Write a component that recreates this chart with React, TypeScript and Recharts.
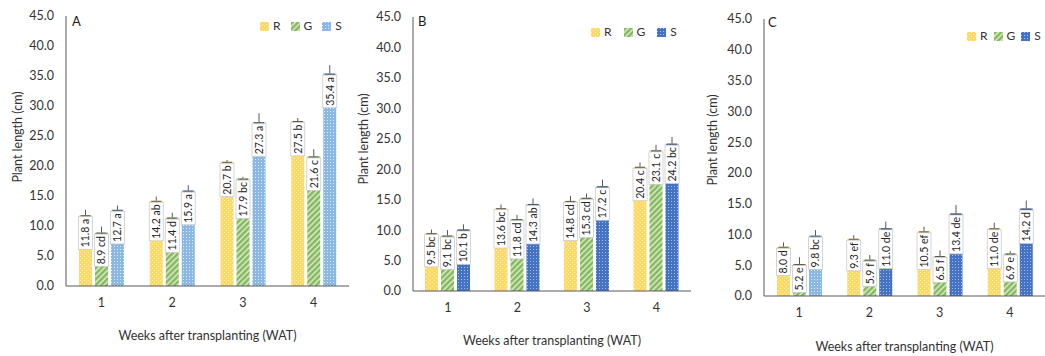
import { BarChart, Bar, XAxis, YAxis, ErrorBar, LabelList, Legend, Cell } from "recharts";

const weeks = ["1", "2", "3", "4"];
const yTicks = [0, 5, 10, 15, 20, 25, 30, 35, 40, 45];
const seriesOrder = ["R", "G", "S"];

// Panel A
const aR = [11.8, 14.2, 20.7, 27.5];
const aG = [8.9, 11.4, 17.9, 21.6];
const aS = [12.7, 15.9, 27.3, 35.4];
const aRLetters = ["a", "ab", "b", "b"];
const aGLetters = ["cd", "d", "bc", "c"];
const aSLetters = ["a", "a", "a", "a"];
const aRErr = [0.9, 0.7, 0.3, 0.5];
const aGErr = [1.0, 0.8, 0.3, 1.2];
const aSErr = [0.7, 0.9, 1.5, 1.4];

// Panel B
const bR = [9.5, 13.6, 14.8, 20.4];
const bG = [9.1, 11.8, 15.3, 23.1];
const bS = [10.1, 14.3, 17.2, 24.2];
const bRLetters = ["bc", "bc", "cd", "c"];
const bGLetters = ["bc", "cd", "cd", "c"];
const bSLetters = ["b", "ab", "c", "bc"];
const bRErr = [0.6, 0.6, 0.8, 0.7];
const bGErr = [0.9, 0.7, 0.7, 0.9];
const bSErr = [0.85, 0.9, 1.1, 1.1];

// Panel C
const cR = [8.0, 9.3, 10.5, 11.0];
const cG = [5.2, 5.9, 6.5, 6.9];
const cS = [9.8, 11.0, 13.4, 14.2];
const cRLetters = ["d", "ef", "ef", "de"];
const cGLetters = ["e", "f", "f", "e"];
const cSLetters = ["bc", "de", "de", "d"];
const cRErr = [0.7, 0.6, 0.75, 0.9];
const cGErr = [1.1, 0.75, 0.9, 0.4];
const cSErr = [0.9, 1.1, 1.4, 1.3];

const FONT = "Lato, 'Open Sans', sans-serif";
const TEXT = "#333333";
const AXIS = "#595959";
const LABEL_FS = 10.5;

const buildRows = (
  r: number[], g: number[], s: number[],
  rl: string[], gl: string[], sl: string[],
  re: number[], ge: number[], se: number[]
) =>
  weeks.map((w, i) => ({
    week: w,
    R: r[i],
    G: g[i],
    S: s[i],
    RText: `${r[i].toFixed(1)} ${rl[i]}`,
    GText: `${g[i].toFixed(1)} ${gl[i]}`,
    SText: `${s[i].toFixed(1)} ${sl[i]}`,
    RErr: [0, re[i]],
    GErr: [0, ge[i]],
    SErr: [0, se[i]],
  }));

let ctx: CanvasRenderingContext2D | null = null;
const textWidth = (t: string) => {
  if (!ctx) ctx = document.createElement("canvas").getContext("2d");
  if (!ctx) return t.length * 5.5;
  ctx.font = `${LABEL_FS}px Lato`;
  return ctx.measureText(t).width;
};

// white rotated value box sitting at the inside top of each bar,
// with a short dark tick marking the bar end under the error line
const BoxLabel = (props: any) => {
  const x = Number(props.x);
  const y = Number(props.y);
  const width = Number(props.width);
  const value = String(props.value);
  const cx = x + width / 2;
  const h = textWidth(value) + 4;
  const top = y + 1.5;
  const cy = top + h / 2;
  return (
    <g>
      <rect x={cx - 7} y={top} width={14} height={h} fill="#ffffff" stroke="#c8c8c8" strokeWidth={0.75} />
      <line x1={cx - 5} x2={cx + 5} y1={y + 0.5} y2={y + 0.5} stroke={AXIS} strokeWidth={1} />
      <text
        x={cx}
        y={cy}
        transform={`rotate(-90 ${cx} ${cy})`}
        textAnchor="middle"
        dominantBaseline="central"
        fontSize={LABEL_FS}
        fill="#262626"
        fontFamily={FONT}
      >
        {value}
      </text>
    </g>
  );
};

const Patterns = () => (
  <svg width={0} height={0} style={{ position: "absolute" }}>
    <defs>
      <pattern id="fillR" width={4} height={4} patternUnits="userSpaceOnUse">
        <rect width={4} height={4} fill="#ffd966" />
        <rect x={0} y={0} width={1} height={1} fill="#ffeeb8" />
        <rect x={2} y={2} width={1} height={1} fill="#ffeeb8" />
      </pattern>
      <pattern id="fillG" width={4} height={4} patternUnits="userSpaceOnUse" patternTransform="rotate(45)">
        <rect width={4} height={4} fill="#dcedd0" />
        <rect width={2.5} height={4} fill="#84b85a" />
      </pattern>
      <pattern id="fillSLight" width={3} height={3} patternUnits="userSpaceOnUse">
        <rect width={3} height={3} fill="#8ab8e4" />
        <rect x={0} y={0} width={1} height={1} fill="#e3eef9" />
      </pattern>
      <pattern id="fillSDark" width={3} height={3} patternUnits="userSpaceOnUse">
        <rect width={3} height={3} fill="#4472c4" />
        <rect x={0} y={0} width={1} height={1} fill="#a9bfe8" />
      </pattern>
    </defs>
  </svg>
);

interface PanelProps {
  letter: string;
  rows: ReturnType<typeof buildRows>;
  left: number;
  width: number;
  axisWidth: number;
  top: number;
  bottom: number;
  right: number;
  titleX: number;
  titleY: number;
  xLabelOffset: number;
  legendX: number;
  legendY: number;
  legendGap: number;
  sFill: string;
  sCells?: string[];
  letterX: number;
  letterY: number;
}

const Panel = (p: PanelProps) => {
  const yTitle = () => (
    <text
      x={p.titleX}
      y={p.titleY}
      transform={`rotate(-90 ${p.titleX} ${p.titleY})`}
      textAnchor="middle"
      dominantBaseline="central"
      fontSize={12.5}
      fill={TEXT}
      fontFamily={FONT}
    >
      Plant length (cm)
    </text>
  );

  const legendContent = (props: any) => {
    const items = [...(props.payload || [])].sort(
      (a: any, b: any) => seriesOrder.indexOf(a.value) - seriesOrder.indexOf(b.value)
    );
    return (
      <div style={{ display: "flex", gap: p.legendGap, alignItems: "center" }}>
        {items.map((e: any) => (
          <div key={e.value} style={{ display: "flex", alignItems: "center" }}>
            <svg width={9} height={9} style={{ marginRight: 4 }}>
              <rect width={9} height={9} fill={e.color} />
            </svg>
            <span style={{ fontSize: 12, color: TEXT, lineHeight: "18px" }}>{e.value}</span>
          </div>
        ))}
      </div>
    );
  };

  return (
    <div style={{ position: "absolute", left: p.left, top: 0 }}>
      <BarChart
        width={p.width}
        height={356}
        data={p.rows}
        margin={{ top: p.top, right: p.right, bottom: p.bottom, left: 0 }}
        barSize={13}
        barGap={3}
      >
        <XAxis
          dataKey="week"
          height={30}
          tickLine={false}
          tickSize={0}
          tickMargin={12}
          axisLine={{ stroke: AXIS }}
          tick={{ fill: TEXT, fontSize: 12.5 }}
          label={{
            value: "Weeks after transplanting (WAT)",
            position: "bottom",
            offset: p.xLabelOffset,
            fill: TEXT,
            fontSize: 12.5,
          }}
        />
        <YAxis
          width={p.axisWidth}
          domain={[0, 45]}
          ticks={yTicks}
          interval={0}
          tickFormatter={(v: number) => v.toFixed(1)}
          tickLine={false}
          tickSize={0}
          tickMargin={12}
          axisLine={{ stroke: AXIS }}
          tick={{ fill: TEXT, fontSize: 12.5 }}
          label={yTitle}
        />
        <Legend
          layout="horizontal"
          verticalAlign="middle"
          align="center"
          content={legendContent}
          wrapperStyle={{ left: p.legendX, top: p.legendY, width: "auto", height: "auto" }}
        />
        <Bar dataKey="R" name="R" fill="url(#fillR)" isAnimationActive={false}>
          <LabelList dataKey="RText" content={BoxLabel} />
          <ErrorBar dataKey="RErr" direction="y" width={0} stroke={AXIS} strokeWidth={1} />
        </Bar>
        <Bar dataKey="G" name="G" fill="url(#fillG)" isAnimationActive={false}>
          <LabelList dataKey="GText" content={BoxLabel} />
          <ErrorBar dataKey="GErr" direction="y" width={0} stroke={AXIS} strokeWidth={1} />
        </Bar>
        <Bar dataKey="S" name="S" fill={p.sFill} isAnimationActive={false}>
          {p.sCells && p.sCells.map((f, i) => <Cell key={i} fill={f} />)}
          <LabelList dataKey="SText" content={BoxLabel} />
          <ErrorBar dataKey="SErr" direction="y" width={0} stroke={AXIS} strokeWidth={1} />
        </Bar>
      </BarChart>
      <div
        style={{
          position: "absolute",
          left: p.letterX,
          top: p.letterY,
          fontSize: 13,
          color: "#1a1a1a",
          lineHeight: "16px",
        }}
      >
        {p.letter}
      </div>
    </div>
  );
};

export default function App() {
  const rowsA = buildRows(aR, aG, aS, aRLetters, aGLetters, aSLetters, aRErr, aGErr, aSErr);
  const rowsB = buildRows(bR, bG, bS, bRLetters, bGLetters, bSLetters, bRErr, bGErr, bSErr);
  const rowsC = buildRows(cR, cG, cS, cRLetters, cGLetters, cSLetters, cRErr, cGErr, cSErr);

  return (
    <div
      style={{
        position: "absolute",
        left: 0,
        top: 0,
        width: 1045,
        height: 356,
        background: "#ffffff",
        fontFamily: FONT,
        overflow: "hidden",
      }}
    >
      <Patterns />
      <Panel
        letter="A"
        rows={rowsA}
        left={0}
        width={350}
        axisWidth={66}
        top={16}
        bottom={40}
        right={1}
        titleX={17}
        titleY={137}
        xLabelOffset={15}
        legendX={260}
        legendY={17}
        legendGap={10}
        sFill="url(#fillSLight)"
        letterX={72}
        letterY={13}
      />
      <Panel
        letter="B"
        rows={rowsB}
        left={350}
        width={345}
        axisWidth={63}
        top={17}
        bottom={35}
        right={4}
        titleX={13}
        titleY={139}
        xLabelOffset={15}
        legendX={241}
        legendY={23}
        legendGap={12}
        sFill="url(#fillSDark)"
        letterX={68}
        letterY={13}
      />
      <Panel
        letter="C"
        rows={rowsC}
        left={700}
        width={345}
        axisWidth={64}
        top={19}
        bottom={30}
        right={0}
        titleX={12}
        titleY={140}
        xLabelOffset={16}
        legendX={267}
        legendY={27}
        legendGap={6}
        sFill="url(#fillSDark)"
        sCells={["url(#fillSLight)", "url(#fillSDark)", "url(#fillSDark)", "url(#fillSDark)"]}
        letterX={68}
        letterY={14}
      />
    </div>
  );
}
